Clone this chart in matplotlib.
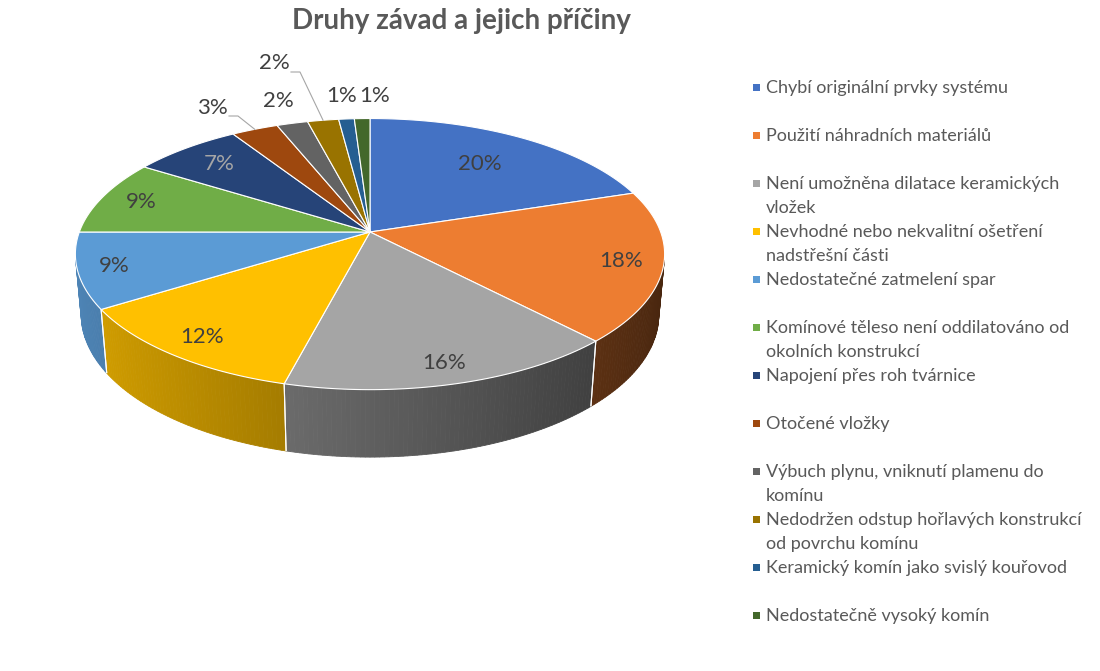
import textwrap
import numpy as np
import matplotlib
matplotlib.use("Agg")
import matplotlib.pyplot as plt
from matplotlib.patches import Polygon, Rectangle
from matplotlib.colors import to_rgb

# ---------------- data ----------------
title = "Druhy závad a jejich příčiny"
categories = [
    "Chybí originální prvky systému",
    "Použití náhradních materiálů",
    "Není umožněna dilatace keramických vložek",
    "Nevhodné nebo nekvalitní ošetření nadstřešní části",
    "Nedostatečné zatmelení spar",
    "Komínové těleso není oddilatováno od okolních konstrukcí",
    "Napojení přes roh tvárnice",
    "Otočené vložky",
    "Výbuch plynu, vniknutí plamenu do komínu",
    "Nedodržen odstup hořlavých konstrukcí od povrchu komínu",
    "Keramický komín jako svislý kouřovod",
    "Nedostatečně vysoký komín",
]
values = [20, 18, 16, 12, 9, 9, 7, 3, 2, 2, 1, 1]
colors = ["#4472C4", "#ED7D31", "#A5A5A5", "#FFC000", "#5B9BD5", "#70AD47",
          "#264478", "#9E480E", "#636363", "#997300", "#255E91", "#43682B"]

# ---------------- style ----------------
FONT = ["Lato", "Noto Sans", "DejaVu Sans"]
TXT = "#595959"
LBL = "#404040"
# label placement: radial factor for inside labels, None -> outside label
label_r = [0.70, 0.86, 0.88, 0.87, 0.88, 0.85, 0.80, None, None, None, None, None]
outside_pos = {7: (212, 108), 8: (278, 101), 9: (274, 63), 10: (342, 96), 11: (375, 96)}
leaders = {7: (229, 238, 116), 9: (291, 300, 72)}
label_colors = {6: "#A6A6A6"}

fig = plt.figure(figsize=(11, 6.71), dpi=100)
ax = fig.add_axes([0, 0, 1, 1])
ax.set_xlim(0, 1100)
ax.set_ylim(671, 0)
ax.axis("off")

# perspective projection of the pie cylinder
CX, CY, FOC, DIST, PHI, H = 370.0, 232.0, 1590.0, 5.47, np.radians(27.0), 0.235
cphi, sphi = np.cos(PHI), np.sin(PHI)


def proj(theta, r=1.0, z=0.0):
    X = r * np.sin(theta)
    Y = r * np.cos(theta)
    depth = DIST + Y * cphi - z * sphi
    sx = FOC * X / depth
    sy = FOC * (Y * sphi + z * cphi) / depth
    return CX + sx, CY - sy


def shade(theta):
    return 0.578 + 0.2785 * np.cos(theta - np.radians(270))


vals = np.array(values, dtype=float)
frac = vals / vals.sum()
edges = np.concatenate([[0], np.cumsum(frac)]) * 2 * np.pi

vis_lo = np.arccos(-1.0 / (DIST * cphi))
vis_hi = 2 * np.pi - vis_lo

# sides
for i, col in enumerate(colors):
    a, b = edges[i], edges[i + 1]
    lo, hi = max(a, vis_lo), min(b, vis_hi)
    if hi <= lo:
        continue
    n = max(2, int(np.degrees(hi - lo) / 0.8))
    ts = np.linspace(lo, hi, n + 1)
    base = np.array(to_rgb(col))
    for k in range(n):
        t0, t1 = ts[k], ts[k + 1]
        pts = [proj(t0), proj(t1), proj(t1, 1, -H), proj(t0, 1, -H)]
        c = np.clip(base * shade(0.5 * (t0 + t1)), 0, 1)
        ax.add_patch(Polygon(pts, closed=True, facecolor=c, edgecolor=c, lw=0.6))
    for t in (a, b):
        if vis_lo < t < vis_hi:
            p0, p1 = proj(t), proj(t, 1, -H)
            ax.plot([p0[0], p1[0]], [p0[1], p1[1]], color="white", lw=0.8,
                    solid_capstyle="butt")

# tops
for i, col in enumerate(colors):
    a, b = edges[i], edges[i + 1]
    n = max(4, int(np.degrees(b - a)))
    ts = np.linspace(a, b, n + 1)
    pts = [(CX, CY)] + [proj(t) for t in ts]
    ax.add_patch(Polygon(pts, closed=True, facecolor=col, edgecolor="white",
                         lw=0.8, joinstyle="round"))

# data labels
for i, v in enumerate(values):
    mid = 0.5 * (edges[i] + edges[i + 1])
    txt = f"{v}%"
    col = label_colors.get(i, LBL)
    if label_r[i] is not None:
        x, y = proj(mid, label_r[i])
    else:
        x, y = outside_pos[i]
    ax.text(x, y, txt, ha="center", va="center", fontsize=16, color=col,
            family=FONT)
    if i in leaders:
        x0, x1, yl = leaders[i]
        rx, ry = proj(mid)
        ax.plot([x0, x1, rx], [yl, yl, ry], color="#A6A6A6", lw=0.8)

# title
ax.text(461, 21, title, ha="center", va="center", fontsize=20,
        fontweight="bold", color=TXT, family=FONT)

# legend
LX, LY0, STEP, LINE = 753, 93, 48, 24
for i, (cat, col) in enumerate(zip(categories, colors)):
    yb = LY0 + STEP * i
    ax.add_patch(Rectangle((LX, yb - 9), 7, 7, facecolor=col, edgecolor="none"))
    for k, line in enumerate(textwrap.wrap(cat, 37)):
        ax.text(LX + 13, yb + LINE * k, line, ha="left", va="baseline",
                fontsize=13, color=TXT, family=FONT)

fig.savefig("out.png", dpi=100, facecolor="white")
